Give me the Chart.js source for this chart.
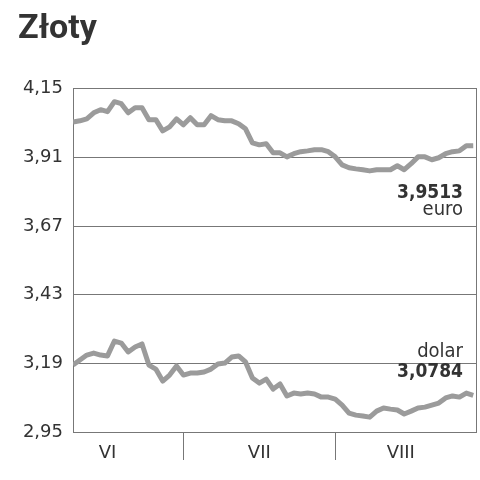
<!DOCTYPE html>
<html>
<head>
<meta charset="utf-8">
<script src="https://cdn.jsdelivr.net/npm/chart.js@4"></script>
<style>
  html, body { margin: 0; padding: 0; background: #fff; }
</style>
</head>
<body>
<canvas id="chart" width="480" height="480"></canvas>
<script>
// PLN exchange rates, one value per session (VI - VIII)
const euroRates = [
    4.034, 4.038, 4.045, 4.066, 4.077, 4.070, 4.105, 4.098, 4.066, 4.084,
    4.084, 4.042, 4.042, 4.003, 4.017, 4.045, 4.024, 4.049, 4.024, 4.024,
    4.056, 4.042, 4.038, 4.038, 4.028, 4.010, 3.961, 3.954, 3.958, 3.926,
    3.926, 3.912, 3.923, 3.930, 3.933, 3.937, 3.937, 3.930, 3.912, 3.884,
    3.874, 3.870, 3.867, 3.863, 3.867, 3.867, 3.867, 3.881, 3.867, 3.888,
    3.912, 3.912, 3.902, 3.909, 3.923, 3.930, 3.933, 3.951, 3.9513
];
const dollarRates = [
    3.184, 3.202, 3.219, 3.226, 3.219, 3.216, 3.268, 3.261, 3.230, 3.247,
    3.258, 3.184, 3.170, 3.128, 3.149, 3.181, 3.149, 3.156, 3.156, 3.160,
    3.170, 3.188, 3.191, 3.212, 3.216, 3.195, 3.139, 3.121, 3.135, 3.100,
    3.118, 3.076, 3.086, 3.083, 3.086, 3.083, 3.072, 3.072, 3.065, 3.044,
    3.016, 3.009, 3.006, 3.002, 3.023, 3.034, 3.030, 3.027, 3.013, 3.023,
    3.034, 3.037, 3.044, 3.051, 3.069, 3.076, 3.072, 3.086, 3.0784
];
const months = ['VI', 'VII', 'VIII'];
const monthStarts = [16, 38];        // first session of VII and VIII
const monthLabelAt = [5, 27, 47.5];  // where the month names sit
const yTicks = [2.95, 3.19, 3.43, 3.67, 3.91, 4.15];

const GRID = '#777';
const LINE = '#9b9b9b';
const TEXT = '#333';

function fmt(v, d) {
    return v.toFixed(d).replace('.', ',');
}

function toPoints(values) {
    return values.map((v, i) => ({ x: i, y: v }));
}

// last values with their names, next to the line ends
const lastValueLabels = {
    id: 'lastValueLabels',
    afterDatasetsDraw(chart) {
        const { ctx, chartArea, scales } = chart;
        const right = chartArea.right - 13;
        const euroLast = euroRates[euroRates.length - 1];
        const dollarLast = dollarRates[dollarRates.length - 1];
        const yEuro = scales.y.getPixelForValue(euroLast);
        const yDollar = scales.y.getPixelForValue(dollarLast);
        const bold = 'bold 19px "DejaVu Sans Condensed", "DejaVu Sans", sans-serif';
        const normal = '20px "DejaVu Sans Condensed", "DejaVu Sans", sans-serif';

        ctx.save();
        ctx.fillStyle = TEXT;
        ctx.textAlign = 'right';
        ctx.textBaseline = 'middle';
        ctx.font = bold;
        ctx.fillText(fmt(euroLast, 4), right, yEuro + 47);
        ctx.fillText(fmt(dollarLast, 4), right, yDollar - 23);
        ctx.font = normal;
        ctx.fillText('euro', right, yEuro + 64);
        ctx.fillText('dolar', right, yDollar - 43);
        ctx.restore();
    }
};

new Chart(document.getElementById('chart'), {
    type: 'line',
    data: {
        datasets: [
            {
                label: 'euro',
                data: toPoints(euroRates),
                borderColor: LINE,
                borderWidth: 5,
                borderJoinStyle: 'round',
                pointRadius: 0,
                tension: 0
            },
            {
                label: 'dolar',
                data: toPoints(dollarRates),
                borderColor: LINE,
                borderWidth: 5,
                borderJoinStyle: 'round',
                pointRadius: 0,
                tension: 0
            }
        ]
    },
    options: {
        responsive: false,
        animation: false,
        layout: {
            padding: { left: 18, right: 0, top: 0, bottom: 0 }
        },
        plugins: {
            legend: { display: false },
            tooltip: { enabled: false },
            title: {
                display: true,
                text: 'Złoty',
                align: 'start',
                color: TEXT,
                font: { family: 'Roboto', size: 34, weight: 'bold' },
                padding: { top: 9, bottom: 39 }
            }
        },
        scales: {
            x: {
                type: 'linear',
                min: 0,
                max: 58.4,
                afterBuildTicks: scale => {
                    scale.ticks = monthStarts.concat(monthLabelAt).map(v => ({ value: v }));
                },
                afterFit: scale => { scale.height = 48; },
                grid: {
                    drawOnChartArea: false,
                    drawTicks: true,
                    tickLength: 28,
                    color: ctx => (ctx.tick && monthStarts.includes(ctx.tick.value)) ? GRID : 'transparent'
                },
                border: { display: true, color: GRID },
                ticks: {
                    autoSkip: false,
                    maxRotation: 0,
                    padding: -17,
                    color: TEXT,
                    font: { family: 'DejaVu Sans', size: 18 },
                    callback: value => {
                        const i = monthLabelAt.indexOf(value);
                        return i >= 0 ? months[i] : '';
                    }
                }
            },
            y: {
                min: 2.95,
                max: 4.15,
                afterBuildTicks: scale => {
                    scale.ticks = yTicks.map(v => ({ value: v }));
                },
                afterFit: scale => { scale.width = 55; },
                grid: { color: GRID, drawTicks: false },
                border: { display: true, color: GRID },
                ticks: {
                    padding: 10,
                    color: TEXT,
                    font: { family: 'DejaVu Sans', size: 18 },
                    callback: value => fmt(value, 2)
                }
            },
            frame: {
                position: 'right',
                grid: { display: false },
                ticks: { display: false },
                border: { display: true, color: GRID },
                afterFit: scale => { scale.width = 4; }
            }
        }
    },
    plugins: [lastValueLabels]
});
</script>
</body>
</html>
